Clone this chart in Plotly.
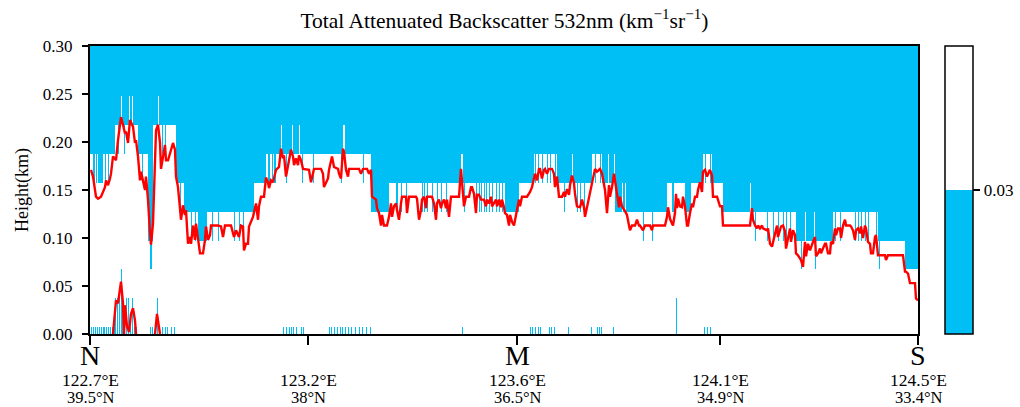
import numpy as np
import plotly.graph_objects as go

# ---------------- data ----------------
N_COLS = 828  # number of profiles along track
# height-bin centres (km); bin 0 is the ground bin
bin_centers = [-0.0075, 0.0225, 0.0525, 0.0825, 0.1125, 0.1425, 0.1725,
               0.2025, 0.2325, 0.2625, 0.2925]

# run-length description of the top of the high-backscatter (white) layer:
# starting profile and number of white bins above ground
seg_start = [0, 3, 13, 25, 48, 58, 63, 86, 95, 108, 117, 164, 176, 281, 299,
             371, 373, 415, 429, 444, 467, 502, 512, 525, 577, 595, 601, 613,
             622, 633, 706, 743, 788, 815]
seg_level = [6, 5, 6, 7, 6, 3, 7, 5, 4, 3, 4, 5, 6, 4, 5,
             6, 5, 4, 5, 6, 5, 6, 5, 4, 5, 4, 5, 6,
             5, 4, 3, 4, 3, 2]

# single profiles that differ from the run
spike_x = [5, 7, 15, 18, 28, 31, 34, 39, 42, 52, 60, 61, 68, 72, 75, 90, 94,
           101, 105, 122, 128, 144, 149, 153,
           178, 179, 182, 184, 185, 191, 196, 202, 209, 212, 223, 251, 253, 254, 273,
           306, 307, 311, 316, 332, 334, 337, 342, 347, 351, 356,
           374, 386, 389, 391, 394, 396, 399, 402, 406, 409, 412,
           445, 448, 452, 457, 460, 465, 474, 482, 487, 490, 494, 505, 510,
           518, 524, 532, 535, 553, 562, 582, 583, 615, 620, 660,
           665, 677, 683, 688, 693, 696, 700, 711, 715, 724, 725,
           745, 750, 765, 768, 771, 775, 778, 786, 789]
spike_level = [6, 6, 5, 5, 6, 8, 6, 8, 8, 5, 2, 2, 8, 6, 6, 4, 4,
               3, 3, 3, 3, 3, 3, 3,
               5, 5, 5, 5, 5, 7, 5, 7, 7, 5, 5, 5, 7, 7, 5,
               4, 4, 4, 4, 4, 4, 4, 4, 4, 4, 4,
               4, 4, 4, 4, 4, 4, 4, 4, 4, 4, 4,
               5, 5, 5, 5, 5, 5, 4, 6, 4, 4, 4, 5, 5,
               6, 6, 5, 5, 3, 3, 4, 4, 5, 5, 5,
               3, 3, 3, 3, 3, 3, 3, 2, 4, 4, 2,
               3, 3, 3, 3, 3, 3, 3, 3, 2]

# low-backscatter returns near the ground: profile and number of bins
ground_x = [1, 3, 5, 7, 9, 11, 13, 14, 16, 18, 20, 22, 24, 25, 27, 29, 31, 32,
            34, 36, 38, 40, 42, 44, 46, 60, 62, 67, 72, 75, 77, 81, 84,
            193, 196, 199, 201, 203, 206, 211, 213, 239, 241, 244, 247, 250,
            252, 255, 258, 261, 265, 269, 272, 276, 280, 372, 440, 442, 445,
            448, 450, 459, 461, 464, 478, 501, 507, 509, 511, 523, 586, 614,
            617, 620]
ground_top = [1, 1, 1, 1, 1, 1, 1, 1, 1, 1, 1, 1, 1, 2, 2, 2, 3, 2,
              1, 2, 2, 1, 2, 1, 1, 1, 1, 2, 1, 1, 1, 1, 1,
              1, 1, 1, 1, 1, 1, 1, 1, 1, 1, 1, 1, 1,
              1, 1, 1, 1, 1, 1, 1, 1, 1, 1, 1, 1, 1,
              1, 1, 1, 1, 1, 1, 1, 1, 1, 1, 1, 2, 1,
              1, 1]

# boundary-layer height (red line), profile and km
pbl_x = [1, 3, 6, 8, 11, 15, 16, 18, 20, 21, 23, 26, 28, 30, 31, 33, 35, 36, 38,
         40, 41, 43, 45, 46, 48, 50, 51, 53, 55, 56, 58, 60, 61, 63, 65, 66, 68,
         70, 71, 73, 75, 76, 78, 80, 83, 85, 86, 88, 91, 93, 95, 96, 98, 100,
         101, 103, 105, 106, 108, 110, 113, 115, 116, 118, 120, 121, 128, 131,
         133, 135, 141, 144, 146, 149, 151, 153, 154, 156, 158, 159, 163, 166,
         168, 169, 171, 174, 176, 178, 179, 181, 183, 184, 186, 189, 191, 193,
         194, 196, 198, 199, 201, 203, 204, 206, 208, 209, 211, 213, 219, 221,
         223, 224, 231, 233, 234, 236, 238, 239, 242, 244, 248, 249, 251, 253,
         254, 256, 258, 259, 269, 271, 273, 277, 279, 281, 282, 286, 287, 289,
         291, 292, 294, 297, 299, 301, 302, 304, 306, 307, 309, 311, 312, 316,
         317, 319, 326, 327, 329, 331, 332, 334, 336, 337, 342, 344, 346, 347,
         349, 351, 352, 354, 356, 357, 359, 361, 369, 371, 372, 374, 376, 379,
         381, 382, 384, 386, 387, 389, 391, 394, 396, 397, 399, 401, 402, 404,
         406, 407, 409, 411, 412, 414, 415, 417, 419, 420, 422, 424, 425, 427,
         429, 430, 432, 437, 439, 440, 442, 444, 445, 447, 449, 450, 452, 454,
         455, 457, 459, 462, 464, 465, 467, 469, 472, 474, 475, 477, 479, 480,
         482, 484, 485, 487, 490, 492, 494, 495, 497, 499, 500, 502, 504, 505,
         507, 509, 510, 512, 514, 515, 517, 519, 520, 522, 524, 525, 527, 529,
         530, 532, 535, 537, 539, 540, 542, 545, 547, 549, 550, 553, 555, 560,
         562, 563, 575, 577, 578, 580, 582, 583, 585, 586, 587, 588, 590, 592,
         593, 595, 597, 598, 600, 602, 603, 605, 607, 608, 610, 612, 613, 615,
         617, 618, 620, 622, 623, 627, 628, 630, 632, 633, 660, 662, 663, 665,
         667, 668, 670, 672, 673, 677, 678, 680, 682, 683, 685, 687, 688, 690,
         691, 693, 695, 696, 698, 700, 701, 703, 705, 706, 708, 710, 711, 713,
         715, 716, 718, 720, 721, 723, 725, 726, 728, 730, 731, 733, 735, 736,
         738, 740, 741, 743, 745, 746, 748, 750, 751, 753, 755, 756, 760, 761,
         763, 765, 766, 768, 770, 771, 773, 775, 776, 778, 780, 781, 783, 785,
         786, 788, 795, 796, 798, 813, 815, 816, 818, 820, 825, 826, 828]
pbl_h = [0.171, 0.164, 0.143, 0.141, 0.143, 0.153, 0.160, 0.155, 0.162, 0.167,
         0.185, 0.181, 0.202, 0.216, 0.226, 0.218, 0.209, 0.211, 0.199, 0.223,
         0.221, 0.216, 0.199, 0.202, 0.185, 0.160, 0.169, 0.160, 0.150, 0.164,
         0.140, 0.105, 0.093, 0.115, 0.185, 0.212, 0.218, 0.199, 0.172, 0.185,
         0.197, 0.181, 0.181, 0.188, 0.199, 0.192, 0.164, 0.153, 0.119, 0.134,
         0.124, 0.129, 0.094, 0.101, 0.094, 0.113, 0.098, 0.115, 0.096, 0.084,
         0.084, 0.098, 0.112, 0.098, 0.103, 0.113, 0.113, 0.112, 0.101, 0.113,
         0.113, 0.101, 0.108, 0.101, 0.113, 0.112, 0.087, 0.094, 0.094, 0.112,
         0.122, 0.136, 0.119, 0.133, 0.143, 0.143, 0.163, 0.158, 0.152, 0.160,
         0.158, 0.162, 0.171, 0.174, 0.193, 0.183, 0.186, 0.164, 0.174, 0.181,
         0.192, 0.185, 0.176, 0.183, 0.176, 0.186, 0.181, 0.172, 0.171, 0.158,
         0.169, 0.172, 0.172, 0.167, 0.153, 0.157, 0.162, 0.171, 0.185, 0.174,
         0.172, 0.167, 0.162, 0.193, 0.190, 0.171, 0.164, 0.172, 0.172, 0.167,
         0.172, 0.172, 0.167, 0.171, 0.143, 0.140, 0.131, 0.126, 0.113, 0.124,
         0.113, 0.113, 0.122, 0.136, 0.122, 0.133, 0.136, 0.129, 0.119, 0.136,
         0.143, 0.143, 0.126, 0.143, 0.143, 0.141, 0.119, 0.129, 0.140, 0.143,
         0.131, 0.143, 0.143, 0.136, 0.119, 0.136, 0.140, 0.131, 0.136, 0.140,
         0.131, 0.140, 0.122, 0.143, 0.143, 0.172, 0.160, 0.133, 0.143, 0.143,
         0.153, 0.153, 0.146, 0.126, 0.145, 0.145, 0.140, 0.140, 0.133, 0.140,
         0.136, 0.143, 0.133, 0.136, 0.140, 0.133, 0.140, 0.132, 0.140, 0.132,
         0.126, 0.124, 0.113, 0.124, 0.117, 0.113, 0.119, 0.128, 0.140, 0.133,
         0.143, 0.143, 0.146, 0.148, 0.153, 0.162, 0.167, 0.160, 0.172, 0.172,
         0.162, 0.171, 0.172, 0.167, 0.172, 0.172, 0.167, 0.153, 0.164, 0.143,
         0.143, 0.148, 0.143, 0.151, 0.145, 0.155, 0.165, 0.157, 0.146, 0.133,
         0.132, 0.140, 0.132, 0.122, 0.132, 0.143, 0.146, 0.157, 0.169, 0.172,
         0.169, 0.171, 0.172, 0.167, 0.153, 0.150, 0.126, 0.155, 0.143, 0.153,
         0.167, 0.160, 0.143, 0.132, 0.143, 0.133, 0.128, 0.124, 0.113, 0.108,
         0.113, 0.113, 0.119, 0.113, 0.113, 0.108, 0.113, 0.113, 0.108, 0.113,
         0.113, 0.122, 0.132, 0.120, 0.115, 0.113, 0.126, 0.146, 0.131, 0.141,
         0.133, 0.132, 0.143, 0.133, 0.113, 0.113, 0.126, 0.136, 0.132, 0.143,
         0.143, 0.150, 0.158, 0.148, 0.169, 0.171, 0.164, 0.167, 0.171, 0.165,
         0.143, 0.143, 0.140, 0.133, 0.133, 0.113, 0.113, 0.131, 0.119, 0.113,
         0.110, 0.113, 0.110, 0.113, 0.110, 0.108, 0.110, 0.094, 0.091, 0.096,
         0.105, 0.113, 0.101, 0.110, 0.112, 0.113, 0.107, 0.089, 0.101, 0.110,
         0.096, 0.108, 0.103, 0.084, 0.082, 0.079, 0.077, 0.070, 0.096, 0.081,
         0.094, 0.087, 0.091, 0.096, 0.101, 0.081, 0.084, 0.089, 0.084, 0.089,
         0.094, 0.094, 0.084, 0.084, 0.096, 0.094, 0.110, 0.103, 0.110, 0.110,
         0.100, 0.113, 0.119, 0.113, 0.113, 0.112, 0.108, 0.098, 0.108, 0.110,
         0.105, 0.112, 0.100, 0.113, 0.110, 0.096, 0.094, 0.084, 0.084, 0.101,
         0.103, 0.082, 0.082, 0.077, 0.082, 0.082, 0.065, 0.065, 0.063, 0.053,
         0.053, 0.037, 0.035]

# second (near-surface) layer height
low_x = [23, 26, 28, 31, 33, 34, 35, 37, 39, 41, 43, 45, 46, None, 65, 67, 70]
low_h = [0.0, 0.035, 0.032, 0.0545, 0.032, 0.0, 0.030, 0.008, 0.002, 0.021,
         0.027, 0.014, 0.0, None, 0.0, 0.021, 0.0]

site_pos = [0, 427, 828]
site_name = ["N", "M", "S"]
tick_pos = [0, 218, 427, 630, 828]
tick_lon = ["122.7°E", "123.2°E", "123.6°E", "124.1°E", "124.5°E"]
tick_lat = ["39.5°N", "38°N", "36.5°N", "34.9°N", "33.4°N"]

CYAN = "#00BFF5"
LOW_VAL, HIGH_VAL = 0.015, 0.045

# ---------------- build the grid ----------------
level = np.zeros(N_COLS, dtype=int)
ends = seg_start[1:] + [N_COLS]
for s, e, k in zip(seg_start, ends, seg_level):
    level[s:e] = k
for xx, k in zip(spike_x, spike_level):
    level[xx] = k

nb = len(bin_centers)
z = np.full((nb, N_COLS), LOW_VAL)
for c in range(N_COLS):
    z[0:level[c] + 1, c] = HIGH_VAL
for xx, t in zip(ground_x, ground_top):
    z[0:t, xx] = LOW_VAL

col_centers = np.arange(N_COLS) + 0.5

FONT = "Liberation Serif"

fig = go.Figure()
fig.add_trace(go.Heatmap(
    x=col_centers, y=bin_centers, z=z,
    zmin=0.0, zmax=0.06,
    colorscale=[[0, CYAN], [0.5, CYAN], [0.5, "white"], [1, "white"]],
    showscale=True,
    colorbar=dict(
        x=1.0326, xanchor="left", xpad=0, y=0.5, yanchor="middle",
        len=1, lenmode="fraction", ypad=0, thickness=28,
        outlinewidth=1.5, outlinecolor="black",
        tickvals=[0.03], ticktext=["0.03"], ticks="outside", ticklen=7,
        tickcolor="black", tickwidth=1.5,
        tickfont=dict(family=FONT, size=17, color="black"),
    ),
    hoverinfo="skip",
))
fig.add_trace(go.Scatter(x=pbl_x, y=pbl_h, mode="lines",
                         line=dict(color="red", width=2.4), hoverinfo="skip",
                         showlegend=False))
fig.add_trace(go.Scatter(x=low_x, y=low_h, mode="lines", connectgaps=False,
                         line=dict(color="red", width=2.4), hoverinfo="skip",
                         showlegend=False))

# site letters, longitudes and latitudes under the axis ticks
for p, name in zip(site_pos, site_name):
    fig.add_annotation(x=p, xref="x", y=0, yref="paper", yshift=-21,
                       text=name, showarrow=False, yanchor="middle",
                       xanchor="center", borderpad=0,
                       font=dict(family=FONT, size=28, color="black"))
for p, lon, lat in zip(tick_pos, tick_lon, tick_lat):
    fig.add_annotation(x=p, xref="x", y=0, yref="paper", yshift=-46,
                       text=lon, showarrow=False, yanchor="middle",
                       xanchor="center", borderpad=0,
                       font=dict(family=FONT, size=17.5, color="black"))
    fig.add_annotation(x=p, xref="x", y=0, yref="paper", yshift=-63,
                       text=lat, showarrow=False, yanchor="middle",
                       xanchor="center", borderpad=0,
                       font=dict(family=FONT, size=16.5, color="black"))

fig.update_layout(
    width=1020, height=407,
    margin=dict(l=90, r=102, t=46, b=73, autoexpand=False),
    paper_bgcolor="white", plot_bgcolor="white",
    showlegend=False,
    title=dict(text="Total Attenuated Backscatter 532nm (km<sup>−1</sup>sr<sup>−1</sup>)",
               x=0.4945, xanchor="center", y=0.95, yanchor="middle",
               font=dict(family=FONT, size=21.5, color="black")),
    font=dict(family=FONT, color="black"),
)
fig.update_xaxes(range=[0, 828], tickvals=tick_pos, showticklabels=False,
                 ticks="outside", ticklen=9, tickwidth=2, tickcolor="black",
                 showline=True, linewidth=2, linecolor="black", mirror=True,
                 showgrid=False, zeroline=False)
fig.update_yaxes(range=[0, 0.30], dtick=0.05, tickformat=".2f",
                 tickfont=dict(family=FONT, size=17, color="black"),
                 ticks="outside", ticklen=6, tickwidth=2, tickcolor="black",
                 ticklabelstandoff=6,
                 showline=True, linewidth=2, linecolor="black", mirror=True,
                 showgrid=False, zeroline=False,
                 title=dict(text="Height(km)", standoff=10,
                            font=dict(family=FONT, size=18, color="black")))

fig.write_html("out.html")
